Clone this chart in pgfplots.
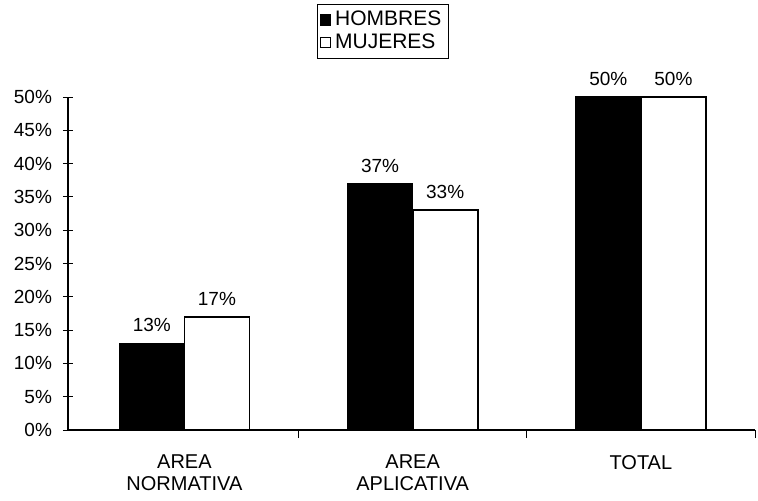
\documentclass[border=0pt]{standalone}
\usepackage{fontspec}
\setmainfont{Liberation Sans}
\usepackage{pgfplots}
\pgfplotsset{compat=1.18}
\begin{document}
\begin{tikzpicture}
\useasboundingbox (-34pt,-35pt) rectangle (345pt,215pt);
\begin{axis}[
  at={(0,0)}, anchor=south west,
  scale only axis, width=343.5pt, height=166.5pt,
  xmin=-0.51, xmax=2.5, ymin=0, ymax=50,
  clip=false,
  /pgf/number format/assume math mode=true,
  axis x line*=bottom, axis y line*=left,
  axis line style={line width=0.6pt, -},
  ytick={0,5,...,50},
  yticklabel={\pgfmathprintnumber{\tick}\%},
  yticklabel style={font=\fontsize{9.5}{10}\selectfont, xshift=-2pt},
  y tick style={black, line width=0.5pt},
  ytick align=center,
  major tick length=5pt,
  xtick={0,1,2},
  xticklabels={{AREA\\NORMATIVA},{AREA\\APLICATIVA},{TOTAL}},
  xticklabel style={font=\fontsize{10}{11}\selectfont, align=center, yshift=-4pt},
  x tick style={draw=none},
  minor xtick={0.5,1.5,2.5},
  minor x tick style={draw=black, line width=0.5pt},
  minor tick length=4pt,
  xtick align=center,
  ybar, bar width=0.285,
  nodes near coords={\pgfmathprintnumber{\pgfplotspointmeta}\%},
  every node near coord/.append style={font=\fontsize{9.5}{10}\selectfont, yshift=2pt},
  legend style={at={(0.458,1.28)}, anchor=north, draw=black, line width=0.4pt,
    font=\fontsize{10.5}{11}\selectfont, inner sep=1.5pt, row sep=-1.5pt,
    legend cell align=left},
  legend image code/.code={\draw[#1, line width=0.6pt] (0pt,-2.5pt) rectangle (5pt,2.5pt);},
]
\addplot[fill=black, draw=black, line width=0.6pt, bar shift=-0.1425] coordinates {(0,13) (1,37) (2,50)};
\addplot[fill=white, draw=black, line width=0.9pt, bar shift=0.1425] coordinates {(0,17) (1,33) (2,50)};
\legend{HOMBRES, MUJERES}
\end{axis}
\end{tikzpicture}
\end{document}
